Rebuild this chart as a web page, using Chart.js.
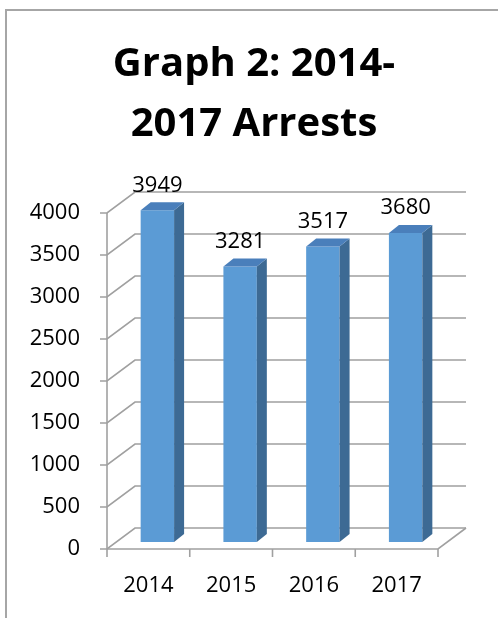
<!DOCTYPE html>
<html>
<head>
<meta charset="utf-8">
<script src="https://cdn.jsdelivr.net/npm/chart.js@4/dist/chart.umd.min.js"></script>
<style>
  body { margin: 0; background: #fff; }
  #wrap { width: 498px; height: 618px; }
</style>
</head>
<body>
<div id="wrap"><canvas id="myChart" width="498" height="618"></canvas></div>
<script>
const years = ['2014', '2015', '2016', '2017'];
const arrests = [3949, 3281, 3517, 3680];
const titleLines = ['Graph 2: 2014-', '2017 Arrests'];

const fontName = '"Open Sans", "Liberation Sans", sans-serif';
const gridColor = '#a0a0a0';

// offsets of the walls relative to the plane of the bar fronts
const front = { dx: -9, dy: 7 };
const back = { dx: 19, dy: -14 };
const barDepth = { dx: 10, dy: -8 };

const box3d = {
    id: 'box3d',
    beforeDraw(chart) {
        const c = chart.ctx;
        c.save();
        c.fillStyle = '#fff';
        c.fillRect(0, 0, chart.width, chart.height);
        c.strokeStyle = '#a6a6a6';
        c.lineWidth = 2;
        c.strokeRect(6, 10, 600, 700);
        c.restore();
    },
    beforeDatasetsDraw(chart) {
        const c = chart.ctx;
        const ys = chart.scales.y;
        const xs = chart.scales.x;
        const left = chart.chartArea.left;
        const right = chart.chartArea.right;
        const base = ys.getPixelForValue(0);
        c.save();
        c.strokeStyle = gridColor;
        c.lineWidth = 1.6;
        // gridlines: left wall diagonal + back wall line
        ys.ticks.forEach(t => {
            const yy = ys.getPixelForValue(t.value);
            c.beginPath();
            c.moveTo(left + front.dx - 7, yy + front.dy);
            c.lineTo(left + front.dx, yy + front.dy);
            c.lineTo(left + back.dx, yy + back.dy);
            c.lineTo(right + back.dx, yy + back.dy);
            c.stroke();
        });
        // front vertical axis
        c.beginPath();
        c.moveTo(left + front.dx, ys.getPixelForValue(ys.max) + front.dy);
        c.lineTo(left + front.dx, base + front.dy);
        c.stroke();
        // floor front + right edge
        c.beginPath();
        c.moveTo(left + front.dx, base + front.dy);
        c.lineTo(right + front.dx, base + front.dy);
        c.lineTo(right + back.dx, base + back.dy);
        c.stroke();
        // category ticks
        const n = years.length;
        const step = (right - left) / n;
        for (let i = 0; i <= n; i++) {
            const xx = xs.getPixelForValue(0) - step / 2 + i * step + front.dx;
            c.beginPath();
            c.moveTo(xx, base + front.dy);
            c.lineTo(xx, base + front.dy + 8);
            c.stroke();
        }
        c.restore();
    },
    afterDatasetsDraw(chart) {
        const c = chart.ctx;
        const meta = chart.getDatasetMeta(0);
        c.save();
        meta.data.forEach((bar, i) => {
            const p = bar.getProps(['x', 'y', 'base', 'width'], true);
            const l = p.x - p.width / 2;
            const r = p.x + p.width / 2;
            // side
            c.fillStyle = '#3d6a94';
            c.beginPath();
            c.moveTo(r, p.y);
            c.lineTo(r + barDepth.dx, p.y + barDepth.dy);
            c.lineTo(r + barDepth.dx, p.base + barDepth.dy);
            c.lineTo(r, p.base);
            c.closePath();
            c.fill();
            // top
            c.fillStyle = '#4a7fbb';
            c.beginPath();
            c.moveTo(l, p.y);
            c.lineTo(l + barDepth.dx, p.y + barDepth.dy);
            c.lineTo(r + barDepth.dx, p.y + barDepth.dy);
            c.lineTo(r, p.y);
            c.closePath();
            c.fill();
            // value label
            c.fillStyle = '#000';
            c.font = '22px ' + fontName;
            c.textAlign = 'center';
            c.textBaseline = 'middle';
            c.fillText(String(arrests[i]), p.x, p.y - 25);
        });
        c.restore();
    }
};

const ctx = document.getElementById('myChart');

new Chart(ctx, {
    type: 'bar',
    data: {
        labels: years,
        datasets: [{
            label: 'Arrests',
            data: arrests,
            backgroundColor: '#5b9bd5',
            borderWidth: 0,
            barPercentage: 0.404,
            categoryPercentage: 1
        }]
    },
    options: {
        responsive: false,
        animation: false,
        layout: { padding: { left: 10, top: 0, right: 0, bottom: 0 } },
        plugins: {
            legend: { display: false },
            tooltip: { enabled: false },
            title: {
                display: true,
                text: titleLines,
                color: '#000',
                font: { family: fontName, size: 40, weight: 'bold', lineHeight: 60 / 40 },
                padding: { top: 35, bottom: 51 }
            }
        },
        scales: {
            x: {
                grid: { display: false, drawTicks: false },
                border: { display: false },
                ticks: {
                    color: '#000',
                    font: { family: fontName, size: 22 },
                    padding: 31,
                    labelOffset: front.dx,
                    maxRotation: 0
                },
                afterFit(scale) { scale.height = 76; }
            },
            y: {
                min: 0,
                max: 4000,
                grid: { display: false, drawTicks: false },
                border: { display: false },
                ticks: {
                    stepSize: 500,
                    color: '#000',
                    font: { family: fontName, size: 22 },
                    padding: 36,
                    labelOffset: front.dy,
                    callback: v => String(v)
                },
                afterFit(scale) { scale.width = 106; }
            },
            // empty axis on the right that only keeps room for the 3D depth
            side: {
                type: 'linear',
                position: 'right',
                grid: { display: false, drawTicks: false },
                border: { display: false },
                ticks: { display: false },
                afterFit(scale) { scale.width = 51; }
            }
        }
    },
    plugins: [box3d]
});
</script>
</body>
</html>
